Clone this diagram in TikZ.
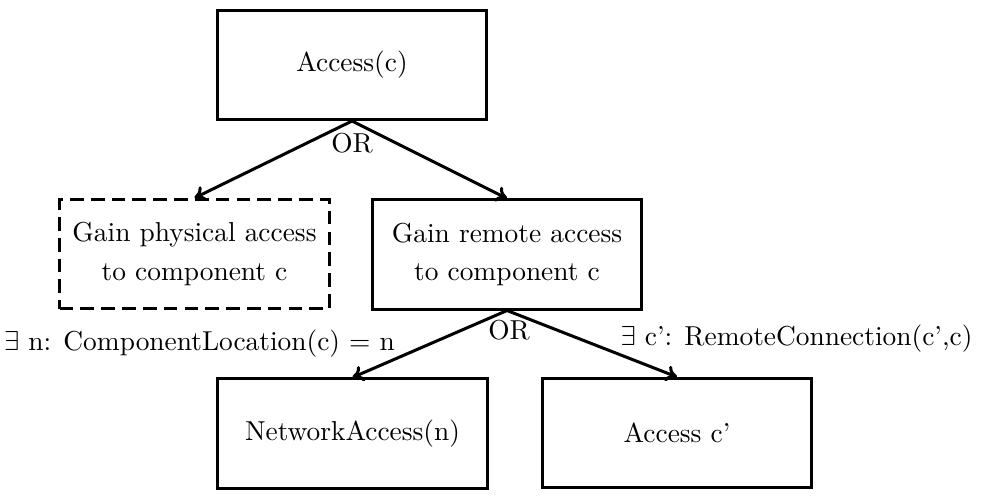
\documentclass[tikz,border=0pt]{standalone}
\usetikzlibrary{arrows.meta}
\begin{document}
\begin{tikzpicture}[x=0.365pt,y=-0.365pt,
  box/.style={draw,line width=1.1pt,minimum width=98.5pt,minimum height=39.8pt,align=center,inner sep=0pt},
  dbox/.style={box,dash pattern=on 5pt off 2.6pt},
  conn/.style={line width=1.1pt,-{To[length=4pt,width=6pt]}},
  lbl/.style={inner sep=0pt}]
\useasboundingbox (0,0) rectangle (987,501);
\node[box] (acc) at (352,65) {Access(c)};
\node[dbox] (phys) at (194.5,254) {Gain physical access\\[2pt]to component c};
\node[box] (rem) at (507,254.5) {Gain remote access\\[2pt]to component c};
\node[box] (net) at (352.5,433.5) {NetworkAccess(n)};
\node[box] (accp) at (677,433) {Access c'};
\draw[conn] (acc.south) -- (phys.north);
\draw[conn] (acc.south) -- (rem.north);
\draw[conn] (rem.south) -- (net.north);
\draw[conn] (rem.south) -- (accp.north);
\node[lbl] (or1) at (352,143) {OR};
\node[lbl] (or2) at (509,330) {OR};
\node[lbl] (l1) at (199.5,344) {$\exists$ n: ComponentLocation(c) = n};
\node[lbl] (l2) at (796.5,339) {$\exists$ c': RemoteConnection(c',c)};
\end{tikzpicture}
\end{document}
